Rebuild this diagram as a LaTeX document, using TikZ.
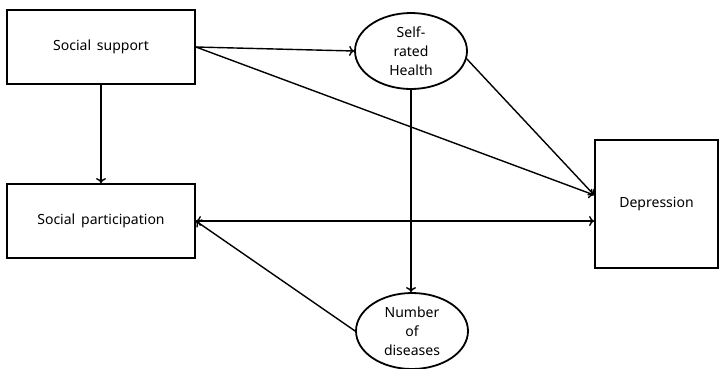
\documentclass[tikz,border=0pt]{standalone}
\usepackage{fontspec}
\setmainfont{Noto Sans}[WordSpace=1.6]
\usetikzlibrary{shapes.geometric,arrows.meta}
\begin{document}
\begin{tikzpicture}[x=1pt,y=-1pt,
  txt/.style={font=\fontsize{14}{19}\selectfont},
  box/.style={draw,line width=1.8pt,minimum width=188pt,minimum height=74pt,inner sep=0pt,txt},
  oval/.style={draw,ellipse,line width=1.8pt,minimum width=112pt,minimum height=76pt,inner sep=0pt,align=center,txt},
  arr/.style={line width=1.4pt,-{To[length=5pt,width=10pt]}},
  darr/.style={line width=1.4pt,{To[length=5pt,width=10pt]}-{To[length=5pt,width=10pt]}}]
\useasboundingbox (0,0) rectangle (720,368);
\node[box] (SS) at (101,47) {Social support};
\node[box] (SP) at (101,221) {Social participation};
\node[draw,line width=1.8pt,minimum width=123pt,minimum height=128pt,inner sep=0pt,txt] (Dep) at (656.5,204) {Depression};
\node[oval] (SRH) at (411,51) {Self-\\rated\\Health};
\node[oval] (NoD) at (412,331) {Number\\of\\diseases};
\coordinate (d1) at ([yshift=9pt]Dep.west);
\draw[arr] (SS.east) -- (SRH.west);
\draw[arr] (SS.south) -- (SP.north);
\draw[arr] (SS.east) -- (d1);
\draw[arr] (SRH.-8) -- (d1);
\draw[arr] (SRH.south) -- (SRH.south |- NoD.north);
\draw[darr] (SP.east) -- (SP.east -| Dep.west);
\draw[arr] (NoD.west) -- (SP.east);
\end{tikzpicture}
\end{document}
